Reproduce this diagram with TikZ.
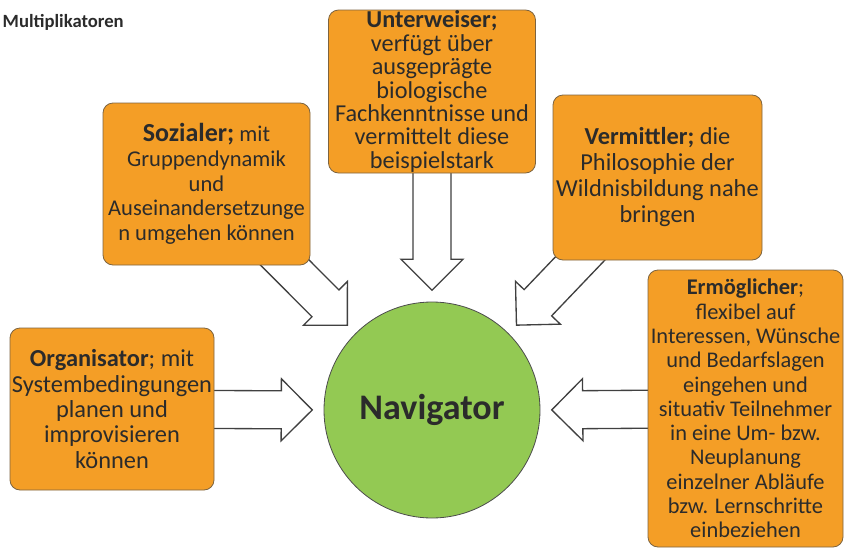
\documentclass[tikz,border=0pt]{standalone}
\usepackage{fontspec}
\setmainfont{Carlito}
\usetikzlibrary{calc,backgrounds}
\definecolor{boxorange}{HTML}{F49E26}
\definecolor{boxedge}{HTML}{7D6440}
\definecolor{navgreen}{HTML}{93C953}
\definecolor{inkgray}{HTML}{2B2B2B}
\newcommand\blockarrow[2]{%
  \begin{pgfonlayer}{background}
  \path ($(#2)!8.5pt!(#1)$) coordinate (tip)
        ($(tip)!23.25pt!(#1)$) coordinate (hb);
  \draw[barr] ($(#1)!14.25pt!90:(tip)$) -- ($(hb)!14.25pt!90:(tip)$)
    -- ($(hb)!23.25pt!90:(tip)$) -- (tip)
    -- ($(hb)!23.25pt!-90:(tip)$) -- ($(hb)!14.25pt!-90:(tip)$)
    -- ($(#1)!14.25pt!-90:(tip)$) -- cycle;
  \end{pgfonlayer}}

\begin{document}
\begin{tikzpicture}[
  x=.75pt,y=-.75pt,
  box/.style={draw=boxedge,fill=boxorange,rounded corners=7.5pt,
    line width=.6pt,align=center,text=inkgray,inner sep=0pt},
  hub/.style={circle,draw=black!70,fill=navgreen,line width=.6pt,
    minimum size=162pt,text=inkgray,font=\bfseries\fontsize{27}{27}\selectfont},
  barr/.style={draw=black!75,fill=white,line width=1pt,line join=miter}
]
\useasboundingbox (0,0) rectangle (847,550);
\node[anchor=base west,text=inkgray,font=\bfseries\fontsize{14}{14}\selectfont]
  (title) at (-2,27) {Multiplikatoren};
\node[hub] (nav) at (432,410) {Navigator};
\node[box,minimum width=155.25pt,minimum height=121.5pt,
  font=\fontsize{16.9}{18.5}\selectfont] (soz) at (206.5,184)
  {{\bfseries\fontsize{19.5}{18.5}\selectfont Sozialer;} mit\\Gruppendynamik\\und\\
   Auseinandersetzunge\\n umgehen können};
\node[box,minimum width=155.25pt,minimum height=122.25pt,
  font=\fontsize{18.2}{17.6}\selectfont] (unt) at (432,91.5)
  {\textbf{Unterweiser;}\\verfügt über\\ausgeprägte\\biologische\\
   Fachkenntnisse und\\vermittelt diese\\beispielstark};
\node[box,minimum width=156.75pt,minimum height=123.75pt,
  font=\fontsize{18.3}{19.5}\selectfont] (ver) at (657.5,177.5)
  {\textbf{Vermittler;} die\\Philosophie der\\Wildnisbildung nahe\\bringen};
\node[box,minimum width=153pt,minimum height=121.5pt,
  font=\fontsize{18.3}{19}\selectfont] (org) at (112,409)
  {\textbf{Organisator}; mit\\Systembedingungen\\planen und\\improvisieren\\können};
\node[box,minimum width=146.25pt,minimum height=207.75pt,
  font=\fontsize{16.8}{18.2}\selectfont] (erm) at (745.5,408.5)
  {\textbf{Ermöglicher};\\flexibel auf\\Interessen, Wünsche\\und Bedarfslagen\\
   eingehen und\\situativ Teilnehmer\\in eine Um- bzw.\\Neuplanung\\
   einzelner Abläufe\\bzw. Lernschritte\\einbeziehen};
\blockarrow{soz.center}{nav.135}
\blockarrow{unt.center}{nav.north}
\blockarrow{ver.center}{nav.45}
\blockarrow{org.center}{nav.west}
\blockarrow{erm.center}{nav.east}
\end{tikzpicture}
\end{document}
